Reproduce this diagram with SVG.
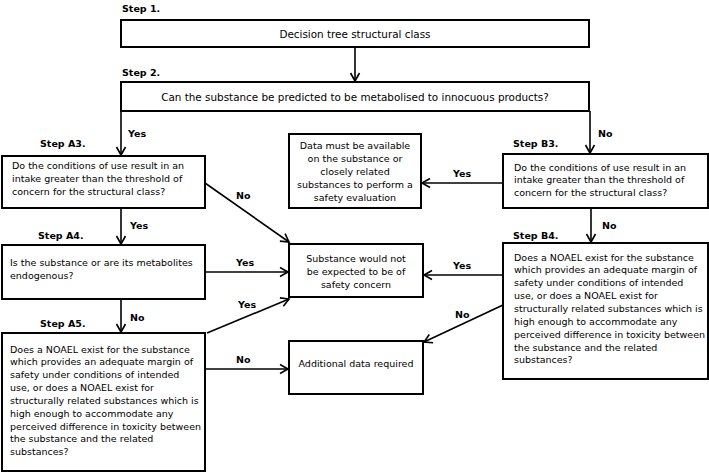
<svg xmlns="http://www.w3.org/2000/svg" width="709" height="472" viewBox="0 0 709 472">
<defs>
<marker id="arr" markerUnits="userSpaceOnUse" markerWidth="12" markerHeight="12" refX="9" refY="5" orient="auto" viewBox="0 0 12 10">
<path d="M1,0.5 L9,5 L1,9.5" fill="none" stroke="#000" stroke-width="1.6"/>
</marker>
</defs>
<style>
rect{fill:#fff;stroke:#000;stroke-width:2}
text{font-family:"DejaVu Sans","Verdana",sans-serif;fill:#000}
.t{font-size:9.5px}
.h{font-size:10.4px}
.c{text-anchor:middle}
.b{font-size:9.5px;font-weight:bold}
.e line{stroke:#000;stroke-width:1.6;marker-end:url(#arr)}
</style>
<rect x="0" y="0" width="709" height="472" style="fill:#fff;stroke:none"/>
<g id="step1">
<text class="b" x="122" y="12">Step 1.</text>
<rect x="121" y="20" width="468" height="27"/>
<text class="h c" x="355" y="37.5">Decision tree structural class</text>
</g>
<g id="step2">
<text class="b" x="122" y="76">Step 2.</text>
<rect x="121" y="82" width="468" height="29"/>
<text class="h c" x="355" y="100.5">Can the substance be predicted to be metabolised to innocuous products?</text>
</g>
<g id="stepA3">
<text class="b" x="40" y="147">Step A3.</text>
<rect x="2" y="156" width="203" height="52"/>
<text class="t" x="12" y="168.5">Do the conditions of use result in an</text>
<text class="t" x="12" y="182">intake greater than the threshold of</text>
<text class="t" x="12" y="195">concern for the structural class?</text>
</g>
<g id="stepA4">
<text class="b" x="38" y="238.5">Step A4.</text>
<rect x="2" y="245" width="203" height="54"/>
<text class="t" x="10" y="265.5">Is the substance or are its metabolites</text>
<text class="t" x="10" y="278.5">endogenous?</text>
</g>
<g id="stepA5">
<text class="b" x="40" y="327">Step A5.</text>
<rect x="2" y="333" width="203" height="138"/>
<text class="t" x="10" y="352.5">Does a NOAEL exist for the substance</text>
<text class="t" x="10" y="365.3">which provides an adequate margin of</text>
<text class="t" x="10" y="378.2">safety under conditions of intended</text>
<text class="t" x="10" y="391">use, or does a NOAEL exist for</text>
<text class="t" x="10" y="403.9">structurally related substances which is</text>
<text class="t" x="10" y="416.7">high enough to accommodate any</text>
<text class="t" x="10" y="429.6">perceived difference in toxicity between</text>
<text class="t" x="10" y="442.4">the substance and the related</text>
<text class="t" x="10" y="455.3">substances?</text>
</g>
<g id="data">
<rect x="289" y="134" width="132" height="74"/>
<text class="t c" x="355" y="148.5">Data must be available</text>
<text class="t c" x="355" y="161.5">on the substance or</text>
<text class="t c" x="355" y="175">closely related</text>
<text class="t c" x="355" y="188">substances to perform a</text>
<text class="t c" x="355" y="201">safety evaluation</text>
</g>
<g id="safe">
<rect x="289" y="244" width="134" height="53"/>
<text class="t c" x="356" y="261.5">Substance would not</text>
<text class="t c" x="356" y="274.5">be expected to be of</text>
<text class="t c" x="356" y="287.5">safety concern</text>
</g>
<g id="additional">
<rect x="289" y="341" width="134" height="53"/>
<text class="t c" x="356" y="366.5">Additional data required</text>
</g>
<g id="stepB3">
<text class="b" x="513" y="147">Step B3.</text>
<rect x="503" y="154" width="205" height="54"/>
<text class="t" x="514" y="170.5">Do the conditions of use result in an</text>
<text class="t" x="514" y="183">intake greater than the threshold of</text>
<text class="t" x="514" y="196">concern for the structural class?</text>
</g>
<g id="stepB4">
<text class="b" x="513" y="238.5">Step B4.</text>
<rect x="503" y="243" width="205" height="136"/>
<text class="t" x="514" y="260.5">Does a NOAEL exist for the substance</text>
<text class="t" x="514" y="273.3">which provides an adequate margin of</text>
<text class="t" x="514" y="286.2">safety under conditions of intended</text>
<text class="t" x="514" y="299">use, or does a NOAEL exist for</text>
<text class="t" x="514" y="311.9">structurally related substances which is</text>
<text class="t" x="514" y="324.7">high enough to accommodate any</text>
<text class="t" x="514" y="337.6">perceived difference in toxicity between</text>
<text class="t" x="514" y="350.5">the substance and the related</text>
<text class="t" x="514" y="363.3">substances?</text>
</g>
<g id="connectors" class="e">
<line x1="355" y1="47" x2="355" y2="81"/>
<line x1="121" y1="111" x2="121" y2="155"/>
<line x1="590" y1="111" x2="590" y2="153"/>
<line x1="205" y1="183" x2="289" y2="242"/>
<line x1="121" y1="208" x2="121" y2="244"/>
<line x1="205" y1="272" x2="288" y2="272"/>
<line x1="121" y1="299" x2="121" y2="332"/>
<line x1="207" y1="333" x2="289" y2="299"/>
<line x1="205" y1="369" x2="288" y2="369"/>
<line x1="503" y1="183" x2="422" y2="183"/>
<line x1="591" y1="208" x2="591" y2="242"/>
<line x1="503" y1="275" x2="424" y2="275"/>
<line x1="503" y1="305" x2="424" y2="342"/>
<text class="b" x="128" y="137">Yes</text>
<text class="b" x="598" y="137">No</text>
<text class="b" x="236" y="199">No</text>
<text class="b" x="130" y="229">Yes</text>
<text class="b" x="236" y="266">Yes</text>
<text class="b" x="130" y="321">No</text>
<text class="b" x="238" y="308">Yes</text>
<text class="b" x="236" y="363">No</text>
<text class="b" x="453" y="177">Yes</text>
<text class="b" x="602" y="229">No</text>
<text class="b" x="453" y="269">Yes</text>
<text class="b" x="455" y="318">No</text>
</g>
</svg>
